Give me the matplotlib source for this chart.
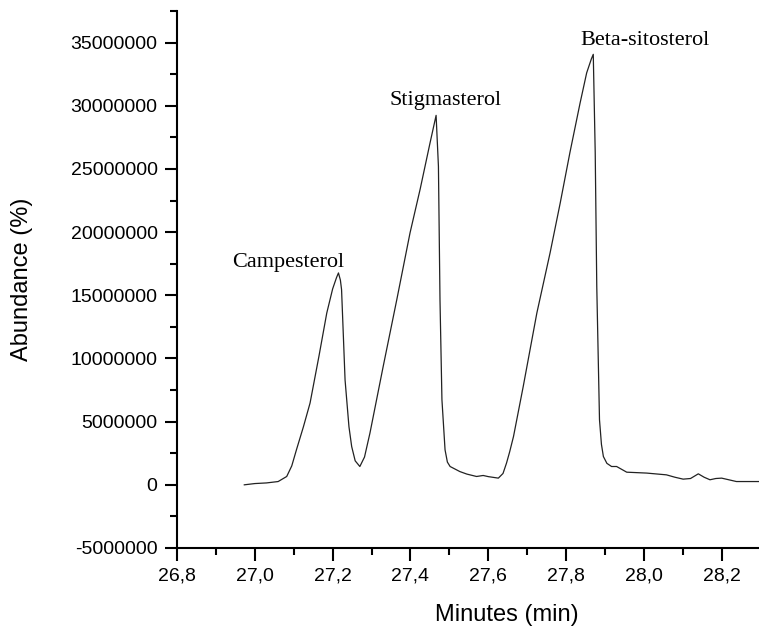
import matplotlib.pyplot as plt
from matplotlib.ticker import MultipleLocator, FuncFormatter

# chromatogram trace (abundance in millions)
minutes = [26.973, 27.000, 27.030, 27.060, 27.082, 27.095, 27.107, 27.125, 27.142,
           27.165, 27.185, 27.200, 27.210, 27.215, 27.220, 27.223, 27.232, 27.242,
           27.249, 27.258, 27.270, 27.282, 27.296, 27.330, 27.365, 27.399, 27.425,
           27.450, 27.466, 27.472, 27.476, 27.481, 27.489, 27.495, 27.502, 27.527,
           27.545, 27.570, 27.587, 27.600, 27.626, 27.638, 27.647, 27.655, 27.665,
           27.690, 27.725, 27.759, 27.785, 27.810, 27.836, 27.853, 27.865, 27.870,
           27.875, 27.879, 27.886, 27.891, 27.896, 27.905, 27.917, 27.930, 27.956,
           28.007, 28.058, 28.080, 28.101, 28.120, 28.140, 28.155, 28.170, 28.185,
           28.200, 28.238, 28.296]
abundance = [0.0, 0.10, 0.15, 0.26, 0.66, 1.5, 2.77, 4.6, 6.47,
             10.2, 13.6, 15.5, 16.4, 16.77, 16.2, 15.45, 8.3, 4.6,
             3.03, 1.9, 1.45, 2.2, 4.1, 9.37, 14.66, 19.94, 23.4,
             27.0, 29.24, 25.2, 14.66, 6.74, 2.77, 1.8, 1.45, 1.05,
             0.85, 0.66, 0.74, 0.65, 0.53, 0.9, 1.72, 2.6, 3.83,
             7.79, 13.6, 18.36, 22.3, 26.3, 30.2, 32.6, 33.7, 34.07,
             26.3, 15.7, 5.15, 3.2, 2.24, 1.7, 1.45, 1.45, 1.0,
             0.93, 0.79, 0.6, 0.45, 0.5, 0.87, 0.6, 0.4, 0.5,
             0.53, 0.26, 0.26]
abundance = [v * 1e6 for v in abundance]

peak_names = ["Campesterol", "Stigmasterol", "Beta-sitosterol"]
peak_x = [27.085, 27.490, 28.003]
peak_y = [17.27e6, 30.1e6, 34.8e6]

fig = plt.figure(figsize=(7.59, 6.28), dpi=100)
ax = fig.add_axes([177 / 759, 80 / 628, 582 / 759, 537 / 628])

ax.plot(minutes, abundance, color="#222222", lw=0.9)

for name, x, y in zip(peak_names, peak_x, peak_y):
    ax.text(x, y, name, ha="center", va="baseline", fontsize=16,
            family="Liberation Serif")

ax.set_xlim(26.8, 28.296)
ax.set_ylim(-5e6, 37.5e6)
ax.xaxis.set_major_locator(MultipleLocator(0.2))
ax.xaxis.set_minor_locator(MultipleLocator(0.1))
ax.yaxis.set_major_locator(MultipleLocator(5e6))
ax.yaxis.set_minor_locator(MultipleLocator(2.5e6))
ax.xaxis.set_major_formatter(FuncFormatter(lambda v, p: f"{v:.1f}".replace(".", ",")))
ax.yaxis.set_major_formatter(FuncFormatter(lambda v, p: str(int(round(v)))))

for s in ["top", "right"]:
    ax.spines[s].set_visible(False)
for s in ["left", "bottom"]:
    ax.spines[s].set_linewidth(1.5)

ax.tick_params(which="major", direction="out", length=9, width=1.5, pad=5,
               labelsize=14)
ax.tick_params(which="minor", direction="out", length=5, width=1.5)
for lab in ax.get_xticklabels() + ax.get_yticklabels():
    lab.set_family("Liberation Sans")

ax.set_xlabel("Minutes (min)", fontsize=17, family="Liberation Sans")
ax.set_ylabel("Abundance (%)", fontsize=17, family="Liberation Sans")
ax.xaxis.set_label_coords(0.567, -0.105)
ax.yaxis.set_label_coords(-0.247, 0.5)

fig.savefig("out.png", dpi=100)
